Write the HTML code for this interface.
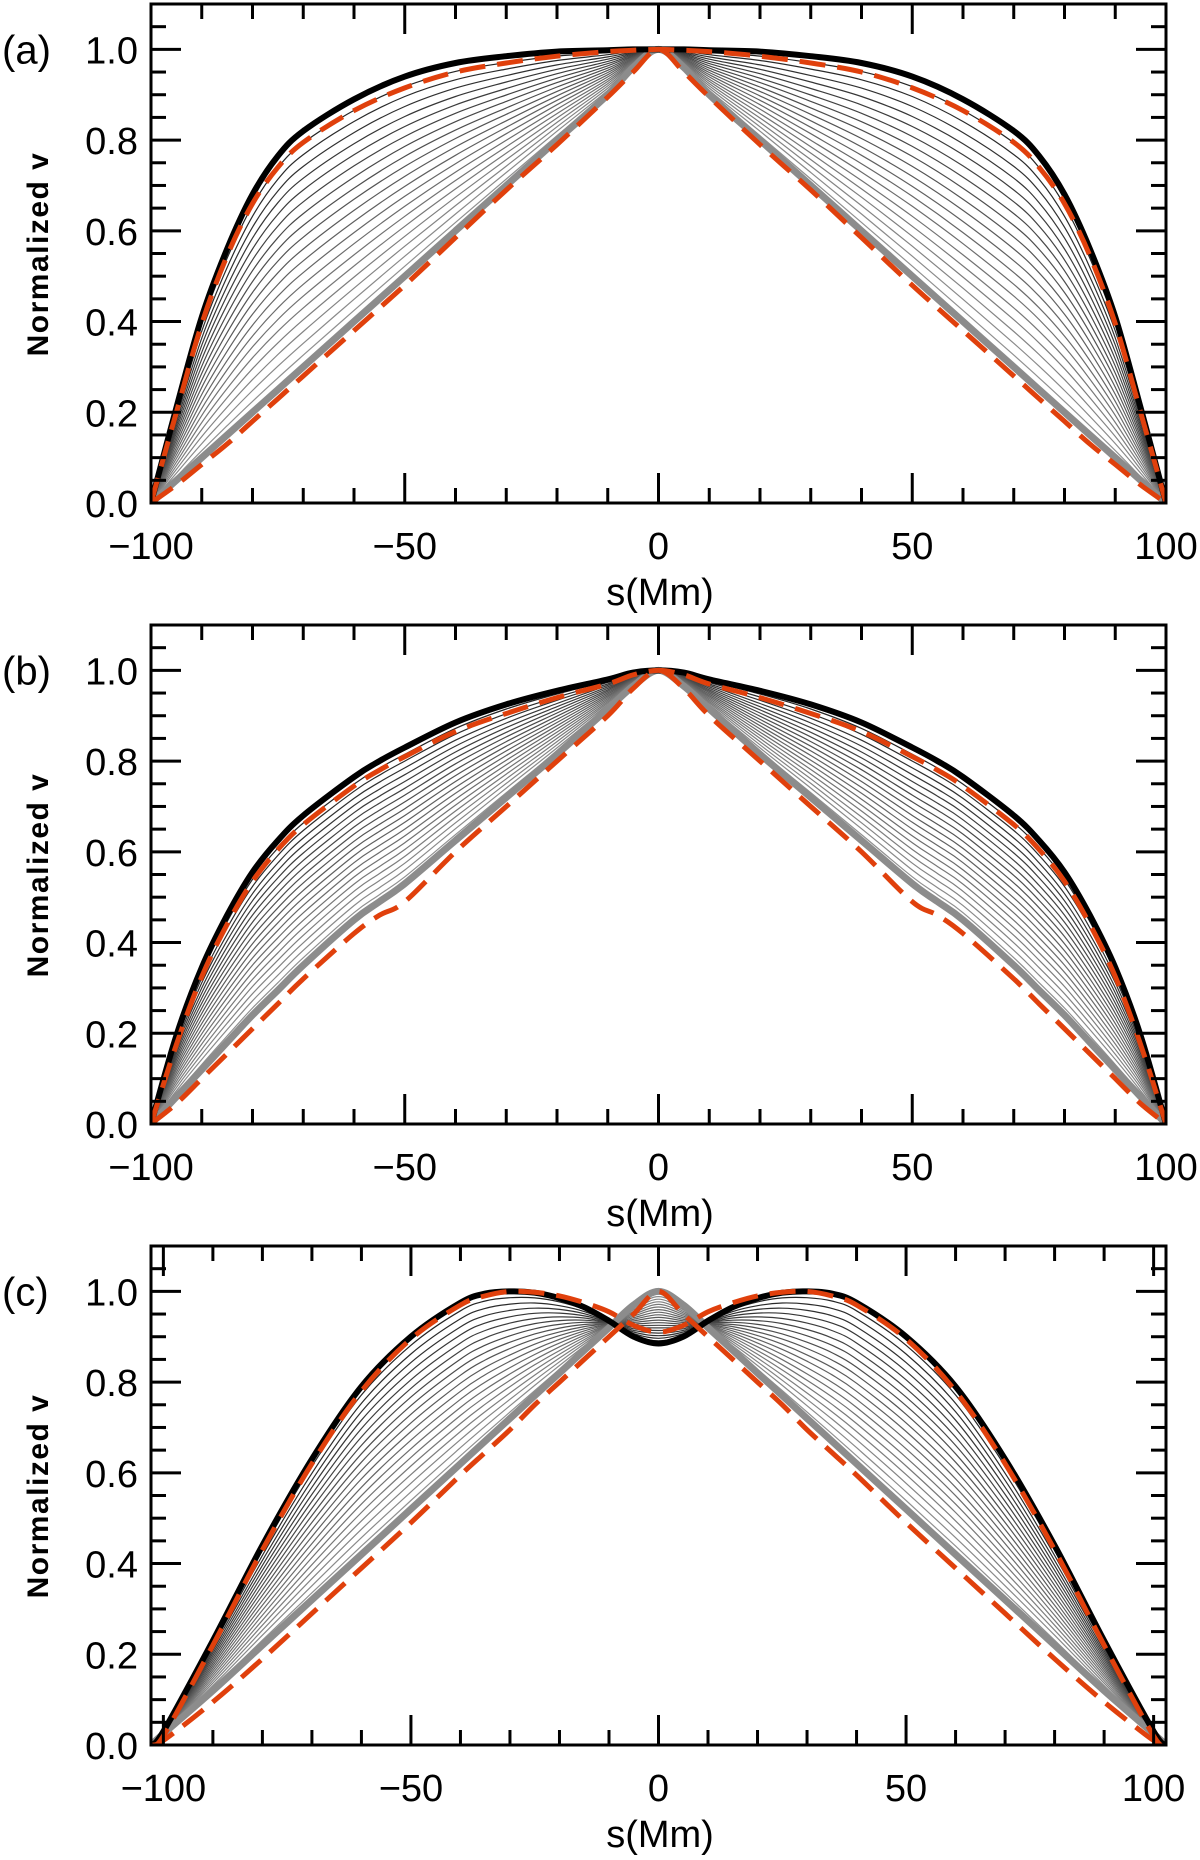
<!DOCTYPE html>
<html><head><meta charset="utf-8"><style>
html,body{margin:0;padding:0;background:#fff}
svg{display:block}
text{font-family:"Liberation Sans",sans-serif;fill:#000}
</style></head><body>
<svg id="fig" width="1200" height="1860" viewBox="0 0 1200 1860" xmlns="http://www.w3.org/2000/svg"></svg>
<script>
// sample positions (|s| in Mm), curves symmetric about s=0
const sA = [0,5,10,20,30,40,50,60,70,75,80,85,90,95,100];
const blackA = [1,1,0.998,0.995,0.985,0.97,0.94,0.89,0.82,0.765,0.68,0.56,0.41,0.21,0];
const redUpA = [1,0.998,0.995,0.985,0.97,0.95,0.915,0.865,0.795,0.74,0.66,0.545,0.395,0.20,0];
const grayA  = [1,0.96,0.90,0.80,0.70,0.60,0.50,0.40,0.30,0.25,0.20,0.15,0.10,0.05,0];
const redLoA = [1,0.95,0.895,0.79,0.69,0.585,0.48,0.38,0.28,0.23,0.18,0.13,0.085,0.04,0];

const sB = [0,5,10,20,30,40,50,55,60,70,75,80,85,90,95,100];
const blackB = [1,0.995,0.98,0.955,0.925,0.885,0.83,0.80,0.765,0.68,0.625,0.555,0.46,0.345,0.195,0];
const redUpB = [1,0.99,0.97,0.94,0.905,0.865,0.81,0.78,0.745,0.66,0.605,0.535,0.44,0.325,0.175,0];
const grayB  = [1,0.965,0.915,0.815,0.72,0.625,0.53,0.49,0.45,0.35,0.295,0.24,0.18,0.12,0.06,0];
const redLoB = [1,0.96,0.90,0.80,0.70,0.60,0.49,0.46,0.42,0.32,0.265,0.21,0.155,0.10,0.045,0];

const sC = [0,5,10,15,20,25,30,35,40,50,60,70,80,90,100,102.5];
const blackC = [0.885,0.90,0.935,0.965,0.985,0.997,1.0,0.995,0.975,0.90,0.79,0.63,0.44,0.23,0.03,0];
const redUpC = [0.91,0.925,0.955,0.975,0.99,0.998,1.0,0.99,0.97,0.895,0.78,0.62,0.43,0.22,0.02,0];
const grayC  = [1,0.97,0.92,0.87,0.82,0.77,0.72,0.67,0.62,0.52,0.42,0.32,0.22,0.12,0.025,0];
const redLoC = [1,0.95,0.90,0.85,0.80,0.75,0.695,0.645,0.595,0.49,0.39,0.29,0.19,0.095,0.01,0];

// thin-curve mixing weights (0 = upper envelope, 1 = lower envelope)
const mixWeights = [0.05,0.1,0.15,0.2,0.25,0.3,0.35,0.4,0.45,0.5,0.55,0.6,0.65,0.7,0.75,0.8,0.85,0.9,0.95];
const xTicks = [-100,-50,0,50,100];
const yTicks = [0.0,0.2,0.4,0.6,0.8,1.0];

const NS="http://www.w3.org/2000/svg";
const fig=document.getElementById('fig');
function el(tag,attrs,parent){const e=document.createElementNS(NS,tag);for(const k in attrs)e.setAttribute(k,attrs[k]);(parent||fig).appendChild(e);return e;}

const panels=[
 {id:'a',top:4,s:sA,black:blackA,redUp:redUpA,gray:grayA,redLo:redLoA,xmax:100},
 {id:'b',top:625,s:sB,black:blackB,redUp:redUpB,gray:grayB,redLo:redLoB,xmax:100},
 {id:'c',top:1246,s:sC,black:blackC,redUp:redUpC,gray:grayC,redLo:redLoC,xmax:102.5}
];
const L=151,R=1166;
panels.forEach(p=>{
 const g=el('g',{});
 
 
 const bottom=p.top+499;
 const X=v=>L+(v+p.xmax)/(2*p.xmax)*(R-L);
 const Y=v=>bottom-v/1.1*(bottom-p.top);
 const clip=el('clipPath',{id:'clip'+p.id},g);
 el('rect',{x:L,y:p.top,width:R-L,height:bottom-p.top},clip);
 const cg=el('g',{'clip-path':'url(#clip'+p.id+')'},g);
 function pathFrom(vals){
   const pts=[];
   for(let i=p.s.length-1;i>=0;i--)pts.push([X(-p.s[i]),Y(vals[i])]);
   for(let i=1;i<p.s.length;i++)pts.push([X(p.s[i]),Y(vals[i])]);
   let d='M'+pts[0][0].toFixed(1)+','+pts[0][1].toFixed(1);
   for(let i=0;i<pts.length-1;i++){
     const p0=pts[Math.max(0,i-1)],p1=pts[i],p2=pts[i+1],p3=pts[Math.min(pts.length-1,i+2)];
     const c1=[p1[0]+(p2[0]-p0[0])/6,p1[1]+(p2[1]-p0[1])/6];
     const c2=[p2[0]-(p3[0]-p1[0])/6,p2[1]-(p3[1]-p1[1])/6];
     d+='C'+c1[0].toFixed(1)+','+c1[1].toFixed(1)+' '+c2[0].toFixed(1)+','+c2[1].toFixed(1)+' '+p2[0].toFixed(1)+','+p2[1].toFixed(1);
   }
   return d;
 }
 mixWeights.forEach((w,k)=>{
   const vals=p.black.map((b,i)=>b*(1-w)+p.gray[i]*w);
   const c=Math.round(30+w*120);
   const e=el('path',{d:pathFrom(vals),fill:'none',stroke:'rgb('+c+','+c+','+c+')','stroke-width':1.2},cg);
   
   
 });
 const gr=el('path',{d:pathFrom(p.gray),fill:'none',stroke:'#8c8c8c','stroke-width':7},cg);
 
 
 const bl=el('path',{d:pathFrom(p.black),fill:'none',stroke:'#000','stroke-width':6},cg);
 
 
 const ru=el('path',{d:pathFrom(p.redUp),fill:'none',stroke:'#e0400c','stroke-width':5,'stroke-dasharray':'26 12'},cg);
 
 
 const rl=el('path',{d:pathFrom(p.redLo),fill:'none',stroke:'#e0400c','stroke-width':5,'stroke-dasharray':'26 12'},cg);
 
 
 const fr=el('rect',{x:L,y:p.top,width:R-L,height:bottom-p.top,fill:'none',stroke:'#000','stroke-width':3},g);
 
 
 for(let v=-100;v<=100;v+=10){
   const len=(v%50===0)?30:15;
   el('line',{x1:X(v),x2:X(v),y1:bottom,y2:bottom-len,stroke:'#000','stroke-width':3},g);
   el('line',{x1:X(v),x2:X(v),y1:p.top,y2:p.top+len,stroke:'#000','stroke-width':3},g);
 }
 for(let i=0;i<=22;i++){
   const v=i*0.05;const len=(i%4===0)?30:15;
   el('line',{x1:L,x2:L+len,y1:Y(v),y2:Y(v),stroke:'#000','stroke-width':3},g);
   el('line',{x1:R,x2:R-len,y1:Y(v),y2:Y(v),stroke:'#000','stroke-width':3},g);
 }
 xTicks.forEach(v=>{
   const t=el('text',{x:X(v),y:bottom+56,'text-anchor':'middle','font-size':38},g);
   t.textContent=(v<0?'\u2212':'')+Math.abs(v);
   
   
 });
 yTicks.forEach(v=>{
   const t=el('text',{x:138,y:Y(v)+14,'text-anchor':'end','font-size':38},g);
   t.textContent=v.toFixed(1);
   
   
 });
 const xt=el('text',{x:660,y:bottom+102,'text-anchor':'middle','font-size':38},g);
 xt.textContent='s(Mm)';
 
 
 const cy=p.top+250;
 const yt=el('text',{x:0,y:0,'text-anchor':'middle','font-size':30,'font-weight':'bold','letter-spacing':'1.5',transform:'translate(48,'+cy+') rotate(-90)'},g);
 yt.textContent='Normalized  v';
 
 
 const pl=el('text',{x:2,y:Y(1.0)+14,'font-size':40},g);
 pl.textContent='('+p.id+')';
 
 
});
</script>
</body></html>
